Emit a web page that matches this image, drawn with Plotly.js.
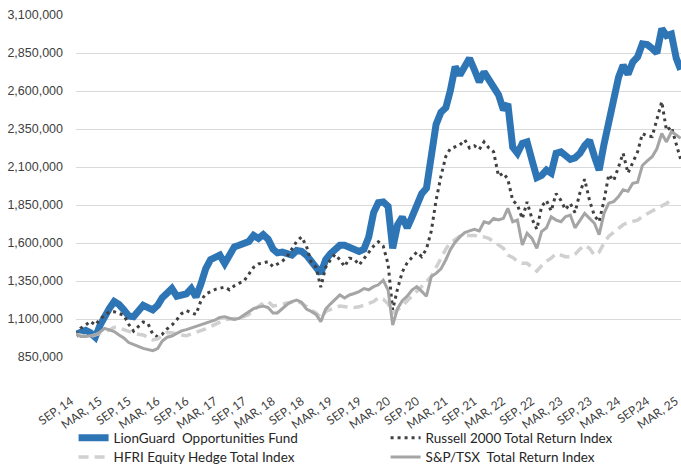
<!DOCTYPE html>
<html><head><meta charset="utf-8">
<script src="https://cdn.plot.ly/plotly-3.0.1.min.js"></script>
<style>html,body{margin:0;padding:0;background:#fff;}#chart{width:681px;height:466px;}</style>
</head><body><div id="chart"></div>
<script>
// Monthly values, Sep 2014 onward
const lionguard = [1000000,1015000,1025000,1010000,980000,1060000,1120000,1170000,1215000,1195000,
1160000,1120000,1115000,1150000,1190000,1175000,1160000,1190000,1240000,1270000,
1300000,1250000,1255000,1265000,1300000,1245000,1330000,1430000,1490000,1505000,
1520000,1465000,1520000,1575000,1585000,1595000,1610000,1650000,1630000,1655000,
1625000,1560000,1535000,1540000,1530000,1520000,1550000,1545000,1520000,1470000,
1440000,1400000,1490000,1530000,1560000,1585000,1585000,1575000,1565000,1545000,
1560000,1640000,1800000,1865000,1870000,1840000,1565000,1720000,1770000,1700000,
1770000,1860000,1925000,1960000,2150000,2380000,2460000,2490000,2600000,2760000,
2705000,2770000,2815000,2740000,2660000,2725000,2670000,2630000,2575000,2475000,
2515000,2230000,2190000,2255000,2265000,2145000,2030000,2045000,2080000,2060000,
2190000,2200000,2170000,2150000,2160000,2190000,2240000,2275000,2170000,2080000,
2250000,2400000,2530000,2690000,2770000,2710000,2790000,2825000,2910000,2905000,
2880000,2850000,3010000,2965000,2975000,2815000,2740000];

const russell = [1000000,1040000,1060000,1085000,1060000,1100000,1125000,1148000,1148000,1137000,
1125000,1065000,1020000,1050000,1080000,1070000,1000000,983000,1000000,1035000,
1060000,1095000,1135000,1155000,1140000,1130000,1220000,1265000,1280000,1295000,
1302000,1310000,1292000,1318000,1335000,1350000,1395000,1440000,1462000,1470000,
1477000,1445000,1460000,1480000,1510000,1560000,1610000,1640000,1580000,1475000,
1440000,1310000,1440000,1490000,1525000,1490000,1445000,1500000,1495000,1455000,
1495000,1540000,1580000,1608000,1580000,1460000,1160000,1300000,1410000,1470000,
1505000,1540000,1510000,1560000,1680000,1880000,2040000,2170000,2220000,2234000,
2245000,2278000,2225000,2240000,2215000,2265000,2225000,2200000,2040000,2060000,
2020000,1880000,1850000,1760000,1870000,1760000,1690000,1840000,1880000,1810000,
1925000,1880000,1820000,1860000,1800000,1930000,2020000,1880000,1780000,1740000,
1880000,2050000,2010000,2100000,2190000,2060000,2130000,2200000,2320000,2305000,
2300000,2420000,2530000,2340000,2365000,2250000,2150000];

const hfri = [1000000,990000,985000,985000,995000,1010000,1020000,1028000,1045000,1042000,
1030000,1017000,1008000,1000000,995000,980000,962000,970000,990000,1012000,
1010000,1000000,995000,990000,1000000,1010000,1020000,1035000,1050000,1065000,
1080000,1095000,1100000,1100000,1105000,1115000,1130000,1160000,1185000,1205000,
1215000,1185000,1190000,1200000,1205000,1210000,1215000,1205000,1180000,1160000,
1140000,1110000,1150000,1165000,1175000,1185000,1180000,1180000,1175000,1180000,
1190000,1200000,1215000,1240000,1230000,1200000,1140000,1160000,1185000,1220000,
1250000,1280000,1310000,1345000,1380000,1440000,1500000,1560000,1600000,1625000,
1645000,1650000,1652000,1650000,1640000,1640000,1630000,1610000,1590000,1565000,
1520000,1505000,1480000,1466000,1466000,1440000,1415000,1450000,1480000,1500000,
1530000,1520000,1510000,1510000,1525000,1560000,1585000,1565000,1520000,1540000,
1600000,1645000,1670000,1700000,1720000,1735000,1745000,1750000,1775000,1790000,
1810000,1828000,1845000,1860000,1885000];

const sptsx = [1000000,985000,985000,990000,995000,1015000,1038000,1028000,1017000,995000,
975000,945000,930000,920000,907000,898000,892000,905000,955000,980000,
988000,1005000,1022000,1030000,1040000,1052000,1062000,1072000,1083000,1094000,
1110000,1115000,1105000,1097000,1105000,1125000,1145000,1168000,1178000,1185000,
1175000,1140000,1140000,1170000,1195000,1215000,1225000,1210000,1165000,1150000,
1130000,1083000,1165000,1200000,1225000,1258000,1238000,1258000,1268000,1280000,
1300000,1292000,1313000,1325000,1355000,1290000,1060000,1170000,1220000,1250000,
1290000,1313000,1282000,1250000,1380000,1400000,1430000,1490000,1555000,1605000,
1640000,1668000,1680000,1690000,1680000,1740000,1730000,1762000,1752000,1762000,
1828000,1740000,1751000,1587000,1664000,1630000,1565000,1675000,1700000,1773000,
1751000,1740000,1773000,1784000,1700000,1751000,1795000,1762000,1730000,1655000,
1795000,1862000,1872000,1905000,1950000,1940000,1993000,2000000,2110000,2140000,
2168000,2220000,2320000,2265000,2332000,2311000,2289000];

const tickLabels = ["SEP, 14","MAR, 15","SEP, 15","MAR, 16","SEP, 16","MAR, 17","SEP, 17","MAR, 18",
"SEP, 18","MAR, 19","SEP, 19","MAR, 20","SEP, 20","MAR, 21","SEP, 21","MAR, 22","SEP, 22","MAR, 23",
"SEP, 23","MAR, 24","SEP,24","MAR, 25"];
const yTicks = [850000,1100000,1350000,1600000,1850000,2100000,2350000,2600000,2850000,3100000];

function monthDate(i){
  const t = 2014*12 + 8 + i;
  const y = Math.floor(t/12), m = t%12 + 1;
  return y + '-' + (m<10?'0':'') + m + '-01';
}
function dates(n){ const a=[]; for(let i=0;i<n;i++) a.push(monthDate(i)); return a; }
const tickVals = tickLabels.map((_,k)=>monthDate(k*6));

const traces = [
  {x:dates(lionguard.length), y:lionguard, name:'LionGuard\u00A0 Opportunities Fund', mode:'lines',
   line:{color:'#2E75B6', width:7}, legend:'legend'},
  {x:dates(russell.length), y:russell, name:'Russell 2000 Total Return Index', mode:'lines',
   line:{color:'#404040', width:3, dash:'3px,4px'}, legend:'legend'},
  {x:dates(hfri.length), y:hfri, name:'HFRI Equity Hedge Total Index', mode:'lines',
   line:{color:'#D0D0D0', width:3.5, dash:'10px,6px'}, legend:'legend2'},
  {x:dates(sptsx.length), y:sptsx, name:'S&P/TSX\u00A0 Total Return Index', mode:'lines',
   line:{color:'#A5A5A5', width:3}, legend:'legend2'}
];

const legendBase = {orientation:'h', x:-0.004, xanchor:'left', yanchor:'middle',
  entrywidth:267, entrywidthmode:'pixels', itemwidth:30, tracegroupgap:0,
  bgcolor:'rgba(0,0,0,0)', font:{family:'Lato', size:13.5, color:'#262626'}};

const layout = {
  width:681, height:466,
  margin:{l:76, r:0, t:15, b:109, autoexpand:false},
  paper_bgcolor:'#fff', plot_bgcolor:'#fff',
  showlegend:true,
  xaxis:{type:'date', range:[monthDate(0), '2025-03-03'], tickvals:tickVals, ticktext:tickLabels,
    tickangle:-35, showgrid:false, zeroline:false, showline:false, ticks:'',
    ticklabelstandoff:34, ticklabelshift:-5, automargin:false, ticklabeloverflow:'allow',
    tickfont:{family:'Lato', size:12, color:'#404040'}},
  yaxis:{range:[850000,3100000], tickvals:yTicks, tickformat:',d', showgrid:true,
    gridcolor:'#D9D9D9', gridwidth:1, zeroline:false, showline:false, ticks:'',
    ticklabelstandoff:12, automargin:false,
    tickfont:{family:'Liberation Sans', size:12.5, color:'#404040'}},
  legend:Object.assign({}, legendBase, {y:-0.237}),
  legend2:Object.assign({}, legendBase, {y:-0.293})
};

Plotly.newPlot('chart', traces, layout, {displayModeBar:false, staticPlot:true});
</script></body></html>
